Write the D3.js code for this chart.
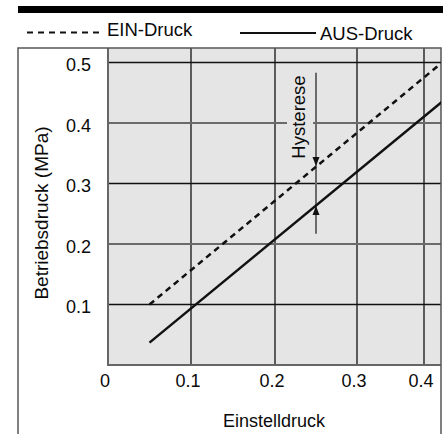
<!DOCTYPE html>
<html><head><meta charset="utf-8">
<script src="https://cdn.jsdelivr.net/npm/d3@7"></script>
<style>body{margin:0;background:#fff}svg{display:block}text{font-family:"Liberation Sans",Arial,Helvetica,sans-serif;fill:#0a0a0a}</style>
</head><body>
<script>
const xTicks = [0, 0.1, 0.2, 0.3, 0.4];
const yTicks = [0.1, 0.2, 0.3, 0.4, 0.5];
const xTickLabels = ["0", "0.1", "0.2", "0.3", "0.4"];
const yTickLabels = ["0.1", "0.2", "0.3", "0.4", "0.5"];
const einDruck = [[0.05, 0.1], [0.427, 0.5]];
const ausDruck = [[0.05, 0.037], [0.427, 0.435]];
const hysteresisX = 0.25;
const hysteresisTop = 0.483, hysteresisBottom = 0.217;
const hysteresisEin = 0.329, hysteresisAus = 0.263;
const seriesNames = ["EIN-Druck", "AUS-Druck"];

const W = 445, H = 434;
const plot = {left: 108, top: 48, right: 441, bottom: 365};
const svg = d3.select("body").append("svg").attr("width", W).attr("height", H);

const x = d3.scaleLinear().domain(xTicks).range([108, 191, 275, 357, 424]);
const y = d3.scaleLinear().domain([0, 0.5]).range([plot.bottom, 62.5]);

// top bar
svg.append("rect").attr("x", 18).attr("y", 6).attr("width", 425).attr("height", 7).attr("fill", "#000");

// legend
svg.append("line").attr("x1", 27).attr("x2", 101).attr("y1", 32.5).attr("y2", 32.5)
  .attr("stroke", "#111").attr("stroke-width", 2).attr("stroke-dasharray", "6,5");
svg.append("text").attr("x", 107).attr("y", 36).attr("font-size", 18.5).text(seriesNames[0]);
svg.append("line").attr("x1", 240).attr("x2", 316).attr("y1", 33).attr("y2", 33)
  .attr("stroke", "#111").attr("stroke-width", 2);
svg.append("text").attr("x", 320).attr("y", 40).attr("font-size", 18.5).text(seriesNames[1]);

// plot background
svg.append("rect").attr("x", plot.left).attr("y", plot.top)
  .attr("width", plot.right - plot.left).attr("height", plot.bottom - plot.top).attr("fill", "#e5e5e5");

// grid verticals
svg.append("g").selectAll("line").data(xTicks.slice(1)).join("line")
  .attr("x1", d => x(d)).attr("x2", d => x(d)).attr("y1", plot.top).attr("y2", plot.bottom)
  .attr("stroke", "#111").attr("stroke-width", 1.3);

// grid horizontals
const gapL = 287, gapR = 313;
yTicks.forEach((v, i) => {
  const dark = (i % 2 === 0);
  const col = dark ? "#111" : "#6a6a6a";
  const sw = dark ? 1.3 : 2;
  if (v === 0.4) {
    svg.append("line").attr("x1", plot.left).attr("x2", gapL).attr("y1", y(v)).attr("y2", y(v)).attr("stroke", col).attr("stroke-width", sw);
    svg.append("line").attr("x1", gapR).attr("x2", plot.right).attr("y1", y(v)).attr("y2", y(v)).attr("stroke", col).attr("stroke-width", sw);
  } else {
    svg.append("line").attr("x1", plot.left).attr("x2", plot.right).attr("y1", y(v)).attr("y2", y(v)).attr("stroke", col).attr("stroke-width", sw);
  }
});

// plot axes lines (left/bottom of gray area)
svg.append("line").attr("x1", plot.left).attr("x2", plot.left).attr("y1", plot.top).attr("y2", plot.bottom + 1)
  .attr("stroke", "#666").attr("stroke-width", 2);
svg.append("line").attr("x1", plot.left).attr("x2", plot.right).attr("y1", plot.bottom).attr("y2", plot.bottom)
  .attr("stroke", "#666").attr("stroke-width", 2);

// outer frame
svg.append("path").attr("d", `M18,${H}V48H441V${H}`).attr("fill", "none").attr("stroke", "#555").attr("stroke-width", 1.5);

// clip
svg.append("clipPath").attr("id", "clip").append("rect")
  .attr("x", plot.left).attr("y", plot.top).attr("width", plot.right - plot.left).attr("height", plot.bottom - plot.top);
const g = svg.append("g").attr("clip-path", "url(#clip)");

// hysteresis
g.append("line").attr("x1", x(hysteresisX)).attr("x2", x(hysteresisX))
  .attr("y1", y(hysteresisTop)).attr("y2", y(hysteresisBottom)).attr("stroke", "#6a6a6a").attr("stroke-width", 2);
const hx = x(hysteresisX);
g.append("path").attr("d", `M${hx-3.5},${y(hysteresisEin)-9}L${hx+3.5},${y(hysteresisEin)-9}L${hx},${y(hysteresisEin)}Z`).attr("fill", "#111");
g.append("path").attr("d", `M${hx-3.5},${y(hysteresisAus)+9}L${hx+3.5},${y(hysteresisAus)+9}L${hx},${y(hysteresisAus)}Z`).attr("fill", "#111");
svg.append("text").attr("transform", `translate(305,117) rotate(-90)`).attr("text-anchor", "middle")
  .attr("font-size", 18.5).text("Hysterese");

// series lines
const line = d3.line().x(d => x(d[0])).y(d => y(d[1]));
g.append("path").datum(einDruck).attr("d", line).attr("fill", "none").attr("stroke", "#111")
  .attr("stroke-width", 2.5).attr("stroke-dasharray", "6,4.5");
g.append("path").datum(ausDruck).attr("d", line).attr("fill", "none").attr("stroke", "#111")
  .attr("stroke-width", 2.5);

// tick labels
svg.append("g").selectAll("text").data(xTicks).join("text")
  .attr("x", d => x(d) - 3).attr("y", 387).attr("text-anchor", "middle").attr("font-size", 18)
  .text((d, i) => xTickLabels[i]);
svg.append("g").selectAll("text").data(yTicks).join("text")
  .attr("x", 91).attr("y", d => y(d) + 8.5).attr("text-anchor", "end").attr("font-size", 18)
  .text((d, i) => yTickLabels[i]);

// axis titles
svg.append("text").attr("transform", `translate(48,213) rotate(-90)`).attr("text-anchor", "middle")
  .attr("font-size", 19).text("Betriebsdruck (MPa)");
svg.append("text").attr("x", 274).attr("y", 427).attr("text-anchor", "middle").attr("font-size", 18).text("Einstelldruck");
</script>
</body></html>
